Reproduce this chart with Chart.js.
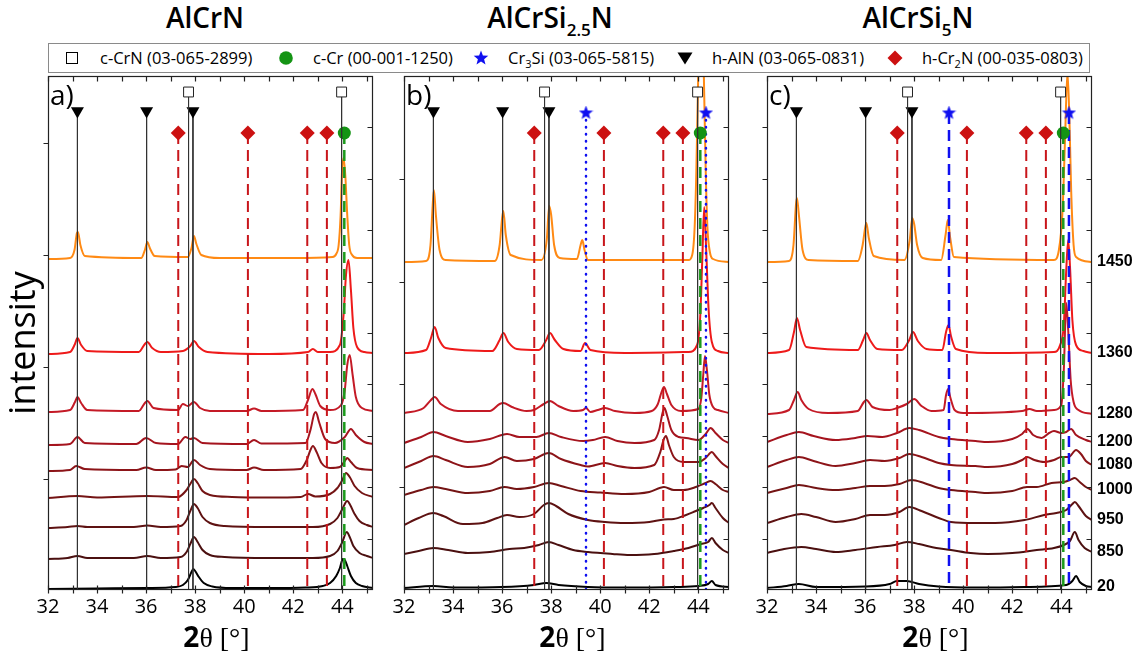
<!DOCTYPE html>
<html><head><meta charset="utf-8">
<script src="https://cdn.jsdelivr.net/npm/chart.js@4.4.1/dist/chart.umd.min.js"></script>
<style>
html,body{margin:0;padding:0;background:#fff;width:1135px;height:658px;overflow:hidden;font-family:"Open Sans",sans-serif;position:relative;}
canvas{position:absolute;top:0;}
.title{position:absolute;top:-1px;font-size:28px;line-height:36px;color:#000;font-weight:600;transform:translateX(-50%);white-space:nowrap;}
.title sub{font-size:17px;vertical-align:-8px;line-height:0;}
#legendBox{position:absolute;left:48px;top:43px;width:1042px;height:30px;border:1px solid #8a8a8a;box-sizing:border-box;}
.li{position:absolute;top:48px;font-size:16.5px;line-height:20px;color:#000;white-space:nowrap;}
.li sub{font-size:11px;vertical-align:-4px;line-height:0;}
.ic{position:absolute;top:50px;}
</style>
</head><body>
<div class="title" style="left:205px">AlCrN</div>
<div class="title" style="left:550px">AlCrSi<sub>2.5</sub>N</div>
<div class="title" style="left:918px">AlCrSi<sub>5</sub>N</div>
<div id="legendBox"></div>
<svg class="ic" style="left:64px" width="16" height="16"><rect x="2.5" y="2.5" width="11" height="11" fill="#fff" stroke="#000" stroke-width="1"/></svg>
<div class="li" style="left:100px">c-CrN (03-065-2899)</div>
<svg class="ic" style="left:278px" width="16" height="16"><circle cx="8" cy="8" r="6.8" fill="#149414"/></svg>
<div class="li" style="left:313px">c-Cr (00-001-1250)</div>
<svg class="ic" style="left:473px" width="16" height="16"><polygon points="8,0.5 9.9,5.6 15.3,5.8 11.1,9.2 12.5,14.5 8,11.5 3.5,14.5 4.9,9.2 0.7,5.8 6.1,5.6" fill="#1010f0"/></svg>
<div class="li" style="left:508px">Cr<sub>3</sub>Si (03-065-5815)</div>
<svg class="ic" style="left:677px" width="16" height="16"><polygon points="0.5,2.5 15.5,2.5 8,14.5" fill="#000"/></svg>
<div class="li" style="left:712px">h-AlN (03-065-0831)</div>
<svg class="ic" style="left:887px" width="16" height="16"><polygon points="8,0.5 15.5,8 8,15.5 0.5,8" fill="#cc1111"/></svg>
<div class="li" style="left:922px">h-Cr<sub>2</sub>N (00-035-0803)</div>

<canvas id="cA" width="385" height="658" style="left:0px;width:385px;height:658px"></canvas>
<canvas id="cB" width="355" height="658" style="left:385px;width:355px;height:658px"></canvas>
<canvas id="cC" width="395" height="658" style="left:740px;width:395px;height:658px"></canvas>

<script>
// ---------- data ----------
const temps = ['20','850','950','1000','1080','1200','1280','1360','1450'];
const tempColors = ['#000000','#4b1010','#5e1212','#741414','#8c1418','#a5141e','#c41a26','#ee1a1a','#ff8a14'];
const xTickLabels = [32,34,36,38,40,42,44];
const xMinorTicks = [33,35,37,39,41,43,45];
const yTicksLeftA = [111,223,335,447];
const yTicksLeftB = [102.8,205.6,308.4,411.2];
const yTicksRight = [51.4,102.8,154.2,205.6,257,308.4,359.8,411.2,462.6];

// reference positions (2theta)
const posCrN = [37.73,43.97];
const posCr = [44.08];
const posCr3Si = [39.42,44.31];
const posAlN = [33.2,36.02,37.91];
const posCr2N = [37.31,40.15,42.57,43.37];

// ---- panel a) AlCrN ----
const a20 = [[32,1],[34,1.5],[36,2],[37.2,3],[37.5,5],[37.7,10],[37.85,18],[37.92,21],[38.0,19],[38.15,13],[38.35,7],[38.7,3.5],[39.5,2],[41,2],[42.5,2.5],[43.2,4],[43.5,7],[43.75,14],[43.9,22],[44.02,31],[44.1,30],[44.2,24],[44.35,14],[44.55,7],[44.8,4],[45.25,2]];
const a850 = [[32,31],[32.8,32],[33.2,34],[33.6,32],[35.5,32],[36.05,34],[36.6,32],[37.4,33],[37.65,38],[37.8,46],[37.95,53],[38.1,48],[38.3,40],[38.6,35],[39.2,33],[41,32],[42.8,32],[43.5,34],[43.8,39],[44.0,48],[44.18,58],[44.3,53],[44.45,44],[44.7,37],[45,34],[45.25,32]];
const a950 = [[32,62],[32.8,63],[33.2,64],[33.6,63],[35.5,63],[36.05,64.5],[36.6,63],[37.4,64],[37.65,70],[37.8,79],[37.95,86],[38.1,82],[38.3,73],[38.6,67],[39.2,64],[41,63],[42.8,63],[43.5,66],[43.8,72],[44.0,81],[44.2,89],[44.32,85],[44.5,76],[44.7,69],[45,65],[45.25,63]];
const a1000 = [[32,92],[33.2,94],[34,92.5],[36.05,94],[37.3,93],[37.65,100],[37.8,106],[37.95,111],[38.1,107],[38.3,99],[38.6,95],[39.5,93],[41,92.5],[42.3,93],[42.6,96],[42.9,93.5],[43.5,96],[43.8,102],[44.0,110],[44.15,117],[44.3,113],[44.5,104],[44.8,97],[45.25,93]];
const a1080 = [[32,119],[32.9,120],[33.15,124],[33.5,121],[35.6,120],[36.0,122.5],[36.4,120],[37.2,120.5],[37.45,124],[37.7,123],[37.95,130],[38.2,125],[38.6,121],[40.1,120],[40.4,122.5],[40.8,120],[42.3,121],[42.55,130],[42.7,140],[42.8,144],[42.95,138],[43.15,127],[43.5,122],[43.9,123],[44.1,129],[44.2,132],[44.35,128],[44.6,122],[45.25,120]];
const a1200 = [[32,145],[32.9,146],[33.2,153],[33.5,147],[35.6,146],[36.0,152],[36.4,147],[37.3,146],[37.6,153],[37.8,151],[37.95,152],[38.3,147],[40.1,146],[40.4,150],[40.7,146.5],[42.5,147],[42.7,160],[42.85,176],[42.92,178],[43.05,168],[43.3,151],[43.7,147],[44.1,153],[44.35,161],[44.55,155],[44.9,148],[45.25,146]];
const a1280 = [[32,178],[32.9,180],[33.1,188],[33.2,193],[33.35,187],[33.6,180],[35.7,179],[35.95,187],[36.05,189],[36.3,182],[37.3,180],[37.5,186],[37.7,184],[37.95,188],[38.2,182],[38.6,179],[40.1,179],[40.4,181.5],[40.7,179],[42.4,180],[42.6,190],[42.78,201],[42.9,196],[43.1,184],[43.5,180],[43.95,185],[44.1,200],[44.2,225],[44.3,235],[44.42,215],[44.55,193],[44.8,182],[45.25,179]];
const a1360 = [[32,236],[32.9,238],[33.1,246],[33.2,252],[33.35,245],[33.6,239],[35.7,238],[35.95,246],[36.05,248],[36.25,242],[36.6,238],[37.5,239],[37.8,244],[37.95,249],[38.15,243],[38.5,238],[41,236],[42.6,238],[42.8,241],[43.0,238],[43.5,238],[43.9,245],[44.05,275],[44.15,315],[44.25,330],[44.35,300],[44.45,262],[44.6,243],[44.9,238],[45.25,237]];
const a1450 = [[32,331],[32.9,332],[33.08,340],[33.18,357],[33.22,358],[33.32,345],[33.5,334],[35.8,332],[35.95,340],[36.05,348],[36.15,342],[36.35,334],[37.7,333],[37.85,342],[37.95,354],[38.05,346],[38.25,335],[39,332],[42,332],[43.6,333],[43.75,336],[43.85,345],[43.93,375],[43.99,420],[44.05,432],[44.12,415],[44.2,375],[44.28,345],[44.4,335],[44.6,332],[45.25,332]];

// ---- panel b) AlCrSi2.5N ----
const b20 = [[32,2],[33.2,4],[34,2.5],[36,3],[37.3,5],[37.8,7],[38.3,5],[39.5,3],[41,2.5],[43,3],[44.0,4],[44.4,6],[44.55,9],[44.7,5],[45.25,3]];
const b850 = [[32,36],[32.6,39],[33.2,42],[33.8,40],[34.6,37],[35.5,38],[36.3,41],[36.9,42],[37.5,45],[37.9,48],[38.3,45],[38.9,40],[39.5,38],[40.5,36],[41.2,35],[42.2,36],[43.0,39],[43.6,42],[44.1,46],[44.4,48],[44.55,52],[44.7,47],[45.0,40],[45.25,37]];
const b950 = [[32,65],[32.6,72],[33.2,77],[33.6,74],[34.4,66],[35.2,67],[35.8,72],[36.2,75],[36.7,73],[37.3,76],[37.7,85],[37.9,87],[38.2,84],[38.7,76],[39.5,70],[40.2,68],[41,67],[42,68],[42.6,70.5],[43.0,71],[43.5,75],[43.9,79],[44.2,82],[44.45,85],[44.55,87],[44.7,82],[45.0,72],[45.25,67]];
const b1000 = [[32,95],[32.7,100],[33.2,103],[33.7,101],[34.6,97],[35.5,99],[36.1,103],[36.6,101],[37.3,103],[37.9,107],[38.4,104],[39.2,99],[40,97.5],[41,96],[42.0,98],[42.6,103],[43.0,100],[43.4,100],[43.9,103],[44.3,107],[44.5,109],[44.7,106],[45.0,100],[45.25,98]];
const b1080 = [[32,122],[32.7,129],[33.2,134],[33.7,130],[34.6,123],[35.5,126],[36.1,133],[36.6,129],[37.3,131],[37.9,137],[38.4,131],[39.2,125],[39.5,123.5],[40.2,127],[40.7,124],[41.4,122],[42.2,125],[42.45,138],[42.58,150],[42.68,154],[42.8,145],[43.0,133],[43.4,128],[44.0,128],[44.3,132],[44.55,138],[44.7,134],[45.0,126],[45.25,122]];
const b1200 = [[32,147],[32.7,153],[33.2,158],[33.7,154],[34.6,148],[35.5,151],[36.2,156],[36.7,153],[37.4,153],[37.9,157],[38.4,153],[39.3,149],[39.7,150],[40.2,153],[40.7,149],[41.4,147],[42.2,150],[42.4,160],[42.55,178],[42.62,182],[42.72,175],[42.9,160],[43.2,153],[43.5,152],[44.0,150],[44.3,156],[44.5,162],[44.7,157],[45.0,150],[45.25,147]];
const b1280 = [[32,177],[32.8,182],[33.1,190],[33.25,193],[33.5,186],[34.2,179],[35.5,179],[35.9,186],[36.05,187],[36.4,183],[37.0,179],[37.3,180],[37.7,186],[37.95,189],[38.3,184],[38.9,179],[39.3,180],[39.42,182],[39.6,178],[39.9,180],[40.2,182],[40.6,179],[41.4,177],[42.1,179],[42.35,186],[42.5,198],[42.6,203],[42.72,196],[42.9,185],[43.3,179],[44.0,181],[44.12,192],[44.2,215],[44.27,234],[44.35,220],[44.45,195],[44.6,183],[44.8,180],[45.25,177]];
const b1360 = [[32,237],[32.9,240],[33.1,252],[33.25,263],[33.4,252],[33.7,242],[35.6,239],[35.9,250],[36.05,257],[36.25,248],[36.6,241],[37.5,240],[37.8,250],[37.95,257],[38.15,250],[38.5,241],[39.2,239],[39.38,247],[39.6,240],[41,237],[43.6,238],[43.95,245],[44.08,275],[44.16,330],[44.24,383],[44.32,340],[44.42,280],[44.55,248],[44.8,239],[45.25,237]];
const b1450 = [[32,328],[32.9,329],[33.08,345],[33.17,385],[33.22,400],[33.3,375],[33.45,340],[33.7,330],[35.7,329],[35.9,345],[36.0,372],[36.05,379],[36.15,355],[36.35,335],[37.6,330],[37.82,350],[37.92,384],[38.0,375],[38.12,345],[38.35,332],[39.05,331],[39.2,345],[39.27,350],[39.36,340],[39.5,330],[43.6,330],[43.75,335],[43.85,363],[43.92,420],[44.0,520],[44.12,620],[44.22,520],[44.3,420],[44.37,363],[44.47,338],[44.6,331],[45.25,328]];

// ---- panel c) AlCrSi5N ----
const c20 = [[32,2],[32.8,4],[33.3,6],[34,3],[36,3.5],[37.0,6],[37.3,9],[37.7,9],[38.2,6],[39,3.5],[40.5,2.5],[42.5,3],[44.2,5],[44.45,9],[44.6,14],[44.75,8],[45.0,4],[45.25,3]];
const c850 = [[32,37],[32.7,41],[33.4,43],[34.0,41],[34.8,38],[35.6,40],[36.5,43],[37.2,45],[37.7,48],[38.2,46],[38.9,42],[39.5,40],[40.3,37],[41.0,36],[42.0,37],[43.0,40],[43.7,42],[44.1,45],[44.35,49],[44.55,58],[44.7,50],[44.95,42],[45.25,38]];
const c950 = [[32,67],[32.8,73],[33.4,76],[34.0,73],[34.8,68],[35.6,71],[36.2,75],[36.8,75],[37.4,78],[37.8,83],[38.3,79],[39.0,72],[39.5,68],[40.5,67],[41.3,67],[42.5,70],[43.3,75],[43.8,77],[44.2,80],[44.45,86],[44.55,88],[44.7,84],[45.0,74],[45.25,70]];
const c1000 = [[32,97],[32.8,102],[33.3,105],[34.0,102],[34.8,100],[35.6,102],[36.2,104],[36.8,104],[37.4,106],[37.9,110],[38.4,107],[39.0,102],[39.5,100],[40.5,98],[41.0,97],[42.0,99],[42.6,103],[43.0,103],[43.6,107],[44.1,108],[44.35,110],[44.55,112],[44.75,108],[45.0,103],[45.25,100]];
const c1080 = [[32,123],[32.8,130],[33.3,133],[33.9,129],[34.8,124],[35.6,127],[36.2,130],[36.8,129],[37.4,132],[37.8,136],[38.3,133],[39.0,127],[39.5,125],[40.5,124],[41.0,123],[42.0,126],[42.4,130],[42.6,133],[42.9,130],[43.3,128],[43.7,130],[44.0,133],[44.3,133],[44.6,140],[44.8,136],[45.0,129],[45.25,125]];
const c1200 = [[32,148],[32.8,155],[33.3,158],[33.9,154],[34.8,150],[35.6,152],[36.1,154],[36.7,153],[37.3,157],[37.8,162],[38.2,160],[39.0,153],[39.5,151],[40.5,149],[41.0,148],[42.0,151],[42.4,156],[42.62,161],[42.85,155],[43.2,152],[43.5,157],[43.7,159],[44.0,157],[44.2,158],[44.4,161],[44.6,155],[45.0,150],[45.25,148]];
const c1280 = [[32,176],[32.9,180],[33.1,190],[33.25,198],[33.4,190],[33.7,181],[34.5,177],[35.7,179],[35.95,188],[36.05,190],[36.3,183],[37.0,180],[37.3,182],[37.7,186],[38.0,191],[38.3,184],[38.7,179],[39.2,180],[39.3,195],[39.38,201],[39.48,192],[39.65,180],[40,177],[42.4,179],[42.7,181],[43.0,179],[43.7,180],[44.0,185],[44.1,220],[44.2,287],[44.28,260],[44.38,210],[44.5,188],[44.7,180],[45.25,176]];
const c1360 = [[32,237],[32.9,240],[33.1,258],[33.22,272],[33.35,260],[33.6,243],[35.7,240],[35.92,250],[36.05,257],[36.2,250],[36.5,241],[37.5,240],[37.8,250],[37.95,258],[38.15,249],[38.5,241],[39.15,240],[39.3,258],[39.4,265],[39.5,254],[39.7,241],[41,237],[43.7,238],[43.95,245],[44.1,265],[44.2,320],[44.28,350],[44.36,320],[44.45,270],[44.6,245],[44.9,239],[45.25,237]];
const c1450 = [[32,328],[32.9,329],[33.08,345],[33.18,385],[33.22,392],[33.3,375],[33.45,340],[33.7,330],[35.7,329],[35.9,345],[36.0,362],[36.05,367],[36.15,352],[36.35,334],[37.6,330],[37.82,350],[37.92,372],[38.0,366],[38.12,345],[38.35,332],[39.1,330],[39.28,355],[39.37,370],[39.47,352],[39.62,333],[43.7,330],[43.9,340],[44.05,380],[44.15,450],[44.25,518],[44.33,470],[44.4,400],[44.5,345],[44.6,333],[45.25,328]];

const curvesA = [a20,a850,a950,a1000,a1080,a1200,a1280,a1360,a1450];
const curvesB = [b20,b850,b950,b1000,b1080,b1200,b1280,b1360,b1450];
const curvesC = [c20,c850,c950,c1000,c1080,c1200,c1280,c1360,c1450];

// ---------- helpers ----------
const Y_MAX = 514;
function starImage(color, size){
  const c=document.createElement('canvas'); c.width=c.height=size;
  const g=c.getContext('2d'); const R=size/2, r=R*0.42;
  g.beginPath();
  for(let i=0;i<10;i++){const a=-Math.PI/2+i*Math.PI/5; const rr=i%2?r:R; g.lineTo(R+rr*Math.cos(a),R+rr*Math.sin(a));}
  g.closePath(); g.fillStyle=color; g.fill(); return c;
}
const STAR = starImage('#1010f0',15);

function refSets(cr3siStyle){
  const out=[];
  const add=(positions,top,cfg)=>positions.forEach(p=>out.push(Object.assign({
    data:[{x:p,y:top},{x:p,y:0}], tension:0, cubicInterpolationMode:'default',
    pointRadius:[cfg.r,0], pointHoverRadius:0, fill:false
  },cfg.ds)));
  add(posCrN,498,{r:7,ds:{borderColor:'#333',borderWidth:1,pointStyle:'rect',pointBackgroundColor:'#fff',pointBorderColor:'#222',pointBorderWidth:1}});
  add(posAlN,479,{r:7.5,ds:{borderColor:'#333',borderWidth:1,pointStyle:'triangle',pointRotation:180,pointBackgroundColor:'#000',pointBorderColor:'#000',pointBorderWidth:0}});
  add(posCr2N,457,{r:7.5,ds:{borderColor:'#c8161b',borderWidth:2,borderDash:[11,6],pointStyle:'rectRot',pointBackgroundColor:'#cc1111',pointBorderColor:'#cc1111',pointBorderWidth:0}});
  add(posCr,457,{r:6.5,ds:{borderColor:'#1c9a1c',borderWidth:2.5,borderDash:[11,6],pointStyle:'circle',pointBackgroundColor:'#149414',pointBorderColor:'#149414',pointBorderWidth:0}});
  if(cr3siStyle==='dot'){
    add(posCr3Si,477,{r:7,ds:{borderColor:'#1010f0',borderWidth:2.5,borderDash:[0.5,6.5],borderCapStyle:'round',pointStyle:STAR}});
  } else if(cr3siStyle==='dash'){
    add(posCr3Si,477,{r:7,ds:{borderColor:'#1010f0',borderWidth:2.5,borderDash:[11,6],pointStyle:STAR}});
  }
  return out;
}
function curveSets(curves){
  const out=[];
  for(let i=curves.length-1;i>=0;i--){
    out.push({data:curves[i].map(p=>({x:p[0],y:p[1]})),borderColor:tempColors[i],borderWidth:2,
      pointRadius:0,pointHoverRadius:0,cubicInterpolationMode:'monotone',fill:false});
  }
  return out;
}

const decor = {
  id:'decor',
  afterDraw(chart,args,o){
    const ctx=chart.ctx, ca=chart.chartArea, xs=chart.scales.x, ys=chart.scales.y;
    ctx.save();
    ctx.strokeStyle='#222'; ctx.lineWidth=1.2;
    const L=Math.round(ca.left)+0.5, R=Math.round(ca.right)-0.5, T=Math.round(ca.top)+0.5, B=Math.round(ca.bottom)-0.5;
    ctx.strokeRect(L,T,R-L,B-T);
    ctx.beginPath();
    xTickLabels.concat(xMinorTicks).forEach(v=>{
      const px=Math.round(xs.getPixelForValue(v))+0.5;
      if(px<L||px>R) return;
      ctx.moveTo(px,T); ctx.lineTo(px,T+5);
      ctx.moveTo(px,B-4); ctx.lineTo(px,B+4);
    });
    o.leftTicks.forEach(v=>{const py=Math.round(ys.getPixelForValue(v))+0.5; ctx.moveTo(L-5,py); ctx.lineTo(L,py);});
    yTicksRight.forEach(v=>{const py=Math.round(ys.getPixelForValue(v))+0.5; ctx.moveTo(R-5,py); ctx.lineTo(R,py);});
    ctx.stroke();
    // panel label
    ctx.fillStyle='#000'; ctx.textAlign='left'; ctx.textBaseline='alphabetic';
    ctx.font='28px "Open Sans"'; ctx.fillText(o.label, ca.left+2, ca.top+29);
    // x title: 2θ [°]
    const cx=(ca.left+ca.right)/2+6, by=647;
    ctx.font='bold 28px "Open Sans"'; const w1=ctx.measureText('2').width;
    ctx.font='28px "Liberation Serif"'; const w2=ctx.measureText('θ [°]').width;
    const sx=cx-(w1+w2)/2;
    ctx.font='bold 28px "Open Sans"'; ctx.fillText('2',sx,by);
    ctx.font='28px "Liberation Serif"'; ctx.fillText('θ [°]',sx+w1,by);
    if(o.yTitle){
      ctx.translate(25,343); ctx.rotate(-Math.PI/2);
      ctx.textAlign='center'; ctx.textBaseline='middle';
      ctx.font='36px "Open Sans"'; ctx.fillText(o.yTitle,0,0);
    }
    ctx.restore();
  }
};

function makeChart(id, curves, cr3si, padding, decorOpts, withLabels){
  const scales = {
    x:{type:'linear',position:'bottom',min:32,max:45.25,
      grid:{display:false,drawTicks:false},border:{display:false},
      afterBuildTicks:s=>{s.ticks=xTickLabels.map(v=>({value:v}));},
      afterFit:s=>{s.height=68;},
      ticks:{autoSkip:false,maxRotation:0,padding:5,color:'#000',font:{family:'"Open Sans"',size:20},callback:v=>String(v)}},
    y:{type:'linear',display:false,min:0,max:Y_MAX}
  };
  if(withLabels){
    const ends = curves.map(c=>c[c.length-1][1]);
    scales.yLab={type:'linear',position:'right',min:0,max:Y_MAX,
      grid:{display:false,drawTicks:false},border:{display:false},
      afterBuildTicks:s=>{s.ticks=ends.map(v=>({value:v}));},
      afterFit:s=>{s.width=43;},
      ticks:{autoSkip:false,padding:5,color:'#000',font:{family:'"Liberation Sans"',size:16,weight:'bold'},callback:(v,i)=>temps[i]}};
  }
  return new Chart(document.getElementById(id),{
    type:'line',
    data:{datasets:refSets(cr3si).concat(curveSets(curves))},
    options:{responsive:false,animation:false,events:[],devicePixelRatio:1,
      layout:{padding:padding},
      scales:scales,
      plugins:{legend:{display:false},tooltip:{enabled:false},title:{display:false},decor:decorOpts}
    },
    plugins:[decor]
  });
}

makeChart('cA',curvesA,'none',{left:48,right:12,top:76,bottom:0},{label:'a)',leftTicks:yTicksLeftA,yTitle:'intensity'},false);
makeChart('cB',curvesB,'dot',{left:19,right:11,top:76,bottom:0},{label:'b)',leftTicks:yTicksLeftB},false);
makeChart('cC',curvesC,'dash',{left:27,right:0,top:76,bottom:0},{label:'c)',leftTicks:yTicksRight},true);
</script>
</body></html>
